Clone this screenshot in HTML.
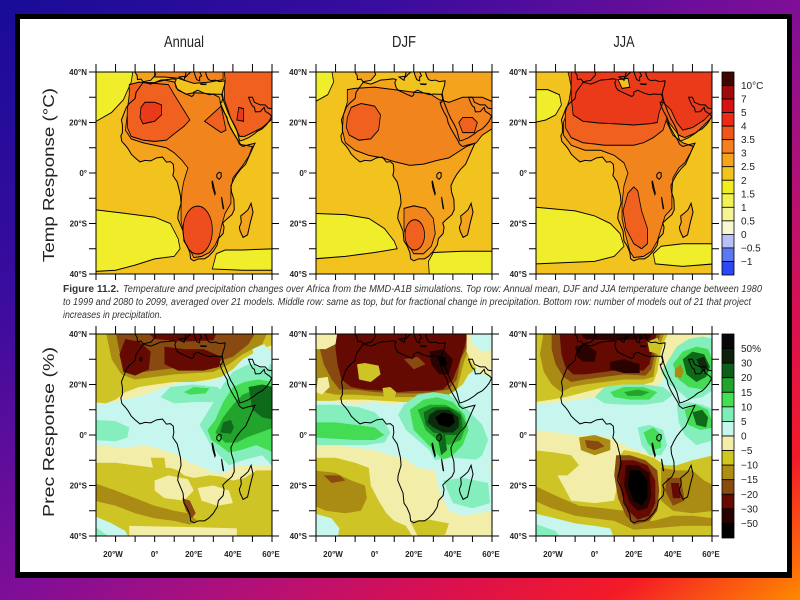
<!DOCTYPE html>
<html><head><meta charset="utf-8">
<style>
html,body{margin:0;padding:0;}
body{width:800px;height:600px;overflow:hidden;background:linear-gradient(to bottom right,#180c98 0%,#3a0c9e 25%,#7e0e98 50%,#b0107a 64%,#d81052 76%,#f41a26 88%,#ff8a00 100%);}
svg{display:block}
text{font-family:"Liberation Sans",Arial,sans-serif}
</style></head><body>
<svg width="800" height="600" viewBox="0 0 800 600">
<defs>
<path id="land" vector-effect="non-scaling-stroke" d="M-6,35.8L-9.5,32 -10,29.5 -13,27.5 -14.5,26 -16.5,22 -17,21 -16.5,19 -16.5,16 -17.3,14.7 -16.8,12.5 -15,11 -13.5,9.5 -12,7.5 -10,6 -7.5,4.4 -5,5 -2,4.8 1,6 4,6.3 6,4.3 8,4.5 9.5,3.5 9.8,1 9.3,-1 11.5,-3.5 12.3,-6 13.2,-9 13.5,-12 12,-16 11.8,-18 14.5,-23 15,-27 16.5,-28.7 18,-31.5 18.4,-34 20,-34.8 22.5,-34 25.5,-34 27.5,-33 30,-31 32,-28.5 32.6,-26 35,-24 35.5,-21.5 34.8,-19.8 36.5,-18.5 39.5,-16.5 40.7,-14.5 40.5,-10.5 39.3,-7.5 39,-5 40.5,-2.5 42,-0.5 44,1.5 46.5,3.5 48.5,7 50.5,10.5 51.3,11.8 48,11.2 45,10.5 43.3,11.5 42.5,13 40.5,15.5 39,17.5 37.5,20 37,22 35.5,24 34,26.5 33.5,28 34.3,28 34.8,29.5 34.2,31.2 32.3,31.2 30,31.3 28,31 25,31.7 22,32.8 20,32 20,31 19,30.3 16,31.3 12,32.8 11,33.8 10.3,35.8 11,37 9.5,37.3 6,37 3,36.8 0,35.8 -2,35.2 -5,35.8Z M26,41L26,40 26.5,38.5 27.5,37 29,36.6 31,36.8 33,36.2 36,36.5 35.8,35 35,33 34.5,31.5 35,29.5 35.5,28 36.5,26 37.5,24 39,21.5 40.5,19.5 42,17 43,14 43.5,12.7 45,13 48,14 51,15.5 52.5,16.5 55,17.5 57,19 58.5,20.5 59.8,22.5 58.5,23.5 56.5,24.5 56,26 54,24.3 51.5,24.2 51,26 50,26.5 49,28 48,30 50,30 51,28 54,27 56.5,27 58,25.7 61,25.3 61,41Z M-11,41L-9,38.7 -8.8,37 -7,37.2 -6,36.2 -5,36.3 -2,36.7 0,38.5 0.5,39 0,40 1,41Z M15,41L16,40 15.7,38 16.5,38.5 17,39 18.5,40 18.5,41Z M12.5,38L15.5,38.3 15,36.7Z M20,41L20.5,39 21.5,37 23,36.5 23,38 24,38.5 23,40 24,41Z M23.5,35.3L26.3,35.2 26,35 23.7,35.1Z M49.3,-12L50.3,-15.5 49.8,-17 48.8,-20 47.5,-24.5 45.2,-25.5 43.7,-23 43.3,-21.5 44.3,-19.5 44,-17 46,-15.8 47.8,-14.5Z"/>
<path id="lakes" vector-effect="non-scaling-stroke" d="M31.8,-0.5L33,0.3 34,0 34,-1.5 33,-2.5 31.8,-1.8Z M29.3,-3.5L29.8,-6 30.8,-8.5 31,-8 30.2,-5.5 29.6,-3.3Z M34.2,-9.5L34.8,-12 35.3,-14.3 35,-14 34.5,-11.5Z"/>
<g id="tk" fill="none" stroke="#000" stroke-width="1">
<path d="M0,0v-8m19.556,8v-8m19.556,8v-8m19.556,8v-8m19.556,8v-8m19.556,8v-8m19.556,8v-8m19.556,8v-8m19.556,8v-8m19.556,8v-8"/>
<path d="M0,202v6m19.556,-6v6m19.556,-6v6m19.556,-6v6m19.556,-6v6m19.556,-6v6m19.556,-6v6m19.556,-6v6m19.556,-6v6m19.556,-6v6"/>
<path d="M0,0h-7m7,25.25h-7m7,25.25h-7m7,25.25h-7m7,25.25h-7m7,25.25h-7m7,25.25h-7m7,25.25h-7m7,25.25h-7"/>
<path d="M176,0h7m-7,25.25h7m-7,25.25h7m-7,25.25h7m-7,25.25h7m-7,25.25h7m-7,25.25h7m-7,25.25h7m-7,25.25h7"/>
<rect x="0" y="0" width="176" height="202"/>
</g>
</defs>

<rect x="15" y="14" width="777" height="564" fill="#000"/>
<rect x="20" y="19" width="767" height="553" fill="#fff"/>

<!-- titles -->
<text x="184" y="47" font-size="16" text-anchor="middle" textLength="40" lengthAdjust="spacingAndGlyphs" fill="#222">Annual</text>
<text x="404" y="47" font-size="16" text-anchor="middle" textLength="24" lengthAdjust="spacingAndGlyphs" fill="#222">DJF</text>
<text x="624" y="47" font-size="16" text-anchor="middle" textLength="21" lengthAdjust="spacingAndGlyphs" fill="#222">JJA</text>

<!-- vertical labels -->
<text transform="translate(54,175) rotate(-90)" font-size="16" text-anchor="middle" textLength="174" lengthAdjust="spacingAndGlyphs" fill="#222">Temp  Response  (°C)</text>
<text transform="translate(54,432) rotate(-90)" font-size="16" text-anchor="middle" textLength="170" lengthAdjust="spacingAndGlyphs" fill="#222">Prec  Response  (%)</text>

<!-- ===== Panel 1: Annual T ===== -->
<svg x="96" y="72" width="176" height="202" viewBox="0 0 90 80" preserveAspectRatio="none">
<g transform="translate(30,40) scale(1,-1)" stroke="#000" stroke-width="0.4">
<rect x="-31" y="-41" width="92" height="82" fill="#f2c21e" stroke="none"/>
<polygon fill="#f0ee2a" points="-31,41 -11,41 -12,36 -16,29 -22,24 -31,20"/>
<polygon fill="#f0ee2a" points="-31,-14.5 -15,-16 0,-17.5 8,-20 12,-26 13,-30 10,-33 0,-34 -10,-36.5 -20,-38.5 -31,-39"/>
<polygon fill="#f0ee2a" points="29.5,-38 31.5,-32 36,-30.5 45,-30.5 61,-30 61,-38.5 45,-38.5"/>
<use href="#land" fill="#f4a41c" stroke="none"/>
<polygon fill="#f2841e" points="-9,32 -12,28 -14,23 -15,17 -12,13.5 -6,12 0,11 6,10 10,8 14,5 17,2 15,-3 14,-7 13.5,-13 13.5,-19 15,-24 17,-28 18.5,-31 20,-33.5 24,-33 28,-31.5 31,-28.5 33,-25 34.5,-20 36,-16 39,-12 39,-6 40,-2 42,0 45,3 48,6.5 50,10.5 44,11.3 41,15 38.5,18.5 36.5,22.5 34,27 33,30 30,31.2 25,31.6 20,31.8 16,31.2 11.5,33.3 10.3,36 5,36.8 0,35.8 -5,35.8"/>
<polygon fill="#f2841e" points="0,41 35,41 35,37 28,36 20,35.5 12,37.5 5,38 0,38"/>
<polygon fill="#f0601e" points="-13,35 -8,36 0,35.5 7,35 10,31 14,26 18,21 15,18.5 10,15.5 6,13 0,12.5 -6,13 -12,14.5 -14,18 -14,25 -13,31"/>
<polygon fill="#f0601e" points="25.5,20.5 34,26.5 36.5,17 34,16"/>
<polygon fill="#f0601e" points="35.5,41 61,41 61,22 55,18 50,16 46,14.5 43.5,14.5 41.5,17.5 39,21.5 37.5,25 35.7,29 35.6,33 36,37"/>
<ellipse cx="22" cy="-22.6" rx="7.5" ry="9.5" fill="#ee4e1e"/>
<polygon fill="#ea3a1a" points="-7,26 -5,28 0,28 3.5,27 3.5,23 0,20.5 -6,19.5 -7.5,22"/>
<polygon fill="#ea3a1a" points="42,21 43,26 45.5,25.5 45.5,20.5"/>
<use href="#land" fill="none" stroke="#000" stroke-width="1"/>
<use href="#lakes" fill="none" stroke="#000" stroke-width="1"/>
</g></svg>

<!-- ===== Panel 2: DJF T ===== -->
<svg x="316" y="72" width="176" height="202" viewBox="0 0 90 80" preserveAspectRatio="none">
<g transform="translate(30,40) scale(1,-1)" stroke="#000" stroke-width="0.4">
<rect x="-31" y="-41" width="92" height="82" fill="#f2c21e" stroke="none"/>
<polygon fill="#f0ee2a" points="-31,41 -22,41 -21,36 -24,31 -31,28"/>
<polygon fill="#f0ee2a" points="-31,-16 -15,-16.5 -3,-18 5,-22 10,-27 11.5,-30 0,-31.5 -15,-33 -31,-34"/>
<polygon fill="#f0ee2a" points="28,-41 27.5,-35 30,-31.5 45,-31 61,-31 61,-41"/>
<use href="#land" fill="#f4a41c" stroke="none"/>
<polygon fill="#f2841e" points="-14,33 -10,33.5 0,34 10,33 20,32 28,31.5 33,29 38,28 45,30 55,30 61,28 61,18 55,15 52,12 47,10.5 42,8 38,6 32,5 25,3.5 18,3 10,4.5 4,6 -3,7 -10,9 -15,12 -16.5,17 -16,23 -14,28"/>
<polygon fill="#f2841e" points="15,-14 20,-13 26,-14 30,-18 31,-24 29,-29 25,-32 20,-32 17,-28 15,-22"/>
<polygon fill="#f0601e" points="-14,22 -12,26 -7,27.5 0,26.5 3,23 2,17 -2,13.5 -8,13 -13,15 -14.5,18"/>
<polygon fill="#f0601e" points="43,20 45,22 50,22 52.5,20 51,16 45,16"/>
<ellipse cx="20.5" cy="-24.5" rx="5" ry="6" fill="#f0601e"/>
<use href="#land" fill="none" stroke="#000" stroke-width="1"/>
<use href="#lakes" fill="none" stroke="#000" stroke-width="1"/>
</g></svg>

<!-- ===== Panel 3: JJA T ===== -->
<svg x="536" y="72" width="176" height="202" viewBox="0 0 90 80" preserveAspectRatio="none">
<g transform="translate(30,40) scale(1,-1)" stroke="#000" stroke-width="0.4">
<rect x="-31" y="-41" width="92" height="82" fill="#f2c21e" stroke="none"/>
<polygon fill="#f0ee2a" points="-31,33 -24,33 -18,31 -17,27 -20,23 -25,21 -31,20"/>
<polygon fill="#f0ee2a" points="-31,-13.5 -10,-15 0,-17 8,-20 13,-24 15,-29 10,-33 0,-35 -15,-35.5 -31,-36"/>
<polygon fill="#f0ee2a" points="31,-36 30,-32 34,-29 45,-28 61,-28 61,-36 45,-37"/>
<use href="#land" fill="#f4a41c" stroke="none"/>
<polygon fill="#f2841e" points="-16,20 -16,15 -12,11 -5,9 3,9 10,7 15,4 17,0 15,-5 14,-12 14,-18 16,-25 18,-31 20,-33.5 25,-33 29,-31 32,-27 34,-22 36,-17 39.5,-14 39.5,-8 40,-2 43,2 46,4 49,8 50.5,10.5 45,12 40,15 37,20 34,26 30,31 20,32 10,34 0,36 -8,36"/>
<polygon fill="#f0601e" points="-14,41 61,41 61,23 56,19 52,16 46,14 43,15 41,17 38,20 37,22 35,17 30,14 25,12 20,11 12,11 5,11 0,11.5 -6,12 -12,14 -15,18 -15,24 -13,29 -12,34 -13,38"/>
<polygon fill="#ea3a1a" points="-12,41 61,41 61,25 56,21 50,18 45,17 42,20 39,25 35,28 33,24 32,20 28,19.5 20,19 10,19.5 2,19.8 -6,20.5 -11,23 -12,30 -12,36"/>
<polygon fill="#f2c21e" points="12,37 17,37.5 18,34 14,33.5"/>
<polygon fill="#f0601e" points="17,-8 20,-5.5 22,-7 24,-15 27,-22 27,-28 24,-30 20,-28 16,-22 14.5,-15"/>
<use href="#land" fill="none" stroke="#000" stroke-width="1"/>
<use href="#lakes" fill="none" stroke="#000" stroke-width="1"/>
</g></svg>

<!-- ===== Panel 4: Annual P ===== -->
<svg x="96" y="334" width="176" height="202" viewBox="0 0 90 80" preserveAspectRatio="none">
<g transform="translate(30,40) scale(1,-1)" stroke="none">
<rect x="-31" y="-41" width="92" height="82" fill="#f2eeaa"/>
<polygon fill="#c6f6ee" points="-31,12 -15,14 -5,16 5,19 15,21 25,21 32,22 36,26 42,30 50,33 61,34 61,-12 50,-12 42,-12 36,-15 30,-15 25,-13 18,-11 12,-8 5,-6 -5,-4 -15,-5 -31,-4"/>
<polygon fill="#cec426" points="-31,41 61,41 61,36 52,33 45,30 40,26 34,23 28,22 20,21 10,21 0,20 -8,19 -15,17 -20,14 -25,12.5 -31,13"/>
<polygon fill="#aa8c14" points="-25,41 58,41 55,36 45,32 38,28 30,25 20,24.5 10,24 0,23 -10,22 -17,24 -22,30"/>
<polygon fill="#884a10" points="-20,41 52,41 48,36 40,31 32,29 25,28 15,27 5,26 -5,25 -14,27 -18,33"/>
<polygon fill="#640a02" points="-15,38 -8,37 -2,33 -3,26 -10,23.5 -16,25 -18,32"/>
<polygon fill="#640a02" points="5,35 15,34 25,34 34,31 33,27 25,25.5 12,25.5 5,28"/>
<polygon fill="#640a02" points="-4,41 32,41 30,37.5 15,37 0,38"/>
<circle cx="-7" cy="30" r="1" fill="#2a0200"/>
<polygon fill="#84eebc" points="-31,6 -20,5.5 -13,3 -14,-1 -20,-2.5 -31,-2"/>
<polygon fill="#84eebc" points="3,15 8,19 20,20 32,19 37,16 30,13 20,13 10,12.5"/>
<polygon fill="#44dc54" points="15,17 20,19 28,18.5 26,16.5 18,16"/>
<polygon fill="#84eebc" points="23,4 27,9 31,14 35,20 40,25 48,28 61,28 61,-13 55,-8 45,-10 38,-12 33,-8 28,-3"/>
<polygon fill="#44dc54" points="27,2 31,6 35,13 40,19 46,21 53,22 61,21 61,-7 52,-4 44,-6 38,-7 33,-4 29,-2"/>
<polygon fill="#22a42c" points="31,1 35,7 40,12 45,16 52,18 61,18 61,3 54,1 47,-1 42,-3 36,-3"/>
<polygon fill="#0e6a1a" points="33.5,1 35,5 39,6 40.5,3 39,0.5"/>
<polygon fill="#0e6a1a" points="48,19 55,20 61,19 61,6 55,7 50,10"/>
<polygon fill="#c6f6ee" points="50,34 56,36 60,32 58,26 52,27"/>
<polygon fill="#cec426" points="-31,-11 -20,-11 -10,-12 0,-13 8,-13 12,-14 15,-16 20,-17 28,-16 34,-16.5 40,-18 46,-17 52,-14 61,-14 61,-41 -31,-41"/>
<polygon fill="#cec426" points="-2,-9 5,-9 6,-15 0,-16"/>
<polygon fill="#f2eeaa" points="0,-18 7,-16 17,-17.5 20,-22 15,-26 5,-25 0,-22"/>
<polygon fill="#f2eeaa" points="22,-21 30,-20 38,-22 40,-27 32,-28 24,-26"/>
<polygon fill="#aa8c14" points="-31,-19 -20,-22 -10,-25 0,-28 10,-30 17,-31 22,-34 18,-35.5 10,-34 0,-33 -10,-31 -20,-28 -31,-26"/>
<polygon fill="#884a10" points="14,-25 18,-26 21,-31 19,-33 16,-30"/>
<polygon fill="#f2eeaa" points="-13,-36 20,-36.5 42,-37 42,-41 -13,-41"/>
<polygon fill="#c6f6ee" points="-31,-32 -22,-35 -15,-38 -13,-41 -31,-41"/>
<polygon fill="#84eebc" points="-31,-36 -22,-41 -31,-41"/>
<use href="#land" fill="none" stroke="#000" stroke-width="1"/>
<use href="#lakes" fill="none" stroke="#000" stroke-width="1"/>
</g></svg>

<!-- ===== Panel 5: DJF P ===== -->
<svg x="316" y="334" width="176" height="202" viewBox="0 0 90 80" preserveAspectRatio="none">
<g transform="translate(30,40) scale(1,-1)" stroke="none">
<rect x="-31" y="-41" width="92" height="82" fill="#f2eeaa"/>
<polygon fill="#c6f6ee" points="-31,14 -20,13 -10,12 0,13 10,12 20,14 30,17 40,22 50,26 61,28 61,-12 50,-14 40,-13 30,-14 22,-13 15,-9 8,-8 0,-6 -10,-5 -20,-4 -31,-3"/>
<polygon fill="#cec426" points="-31,41 61,41 61,30 55,28 48,24 45,20 40,17 35,15 25,13.5 15,13 5,13.5 -5,14 -15,14 -22,13.5 -31,13.5"/>
<polygon fill="#aa8c14" points="-31,41 56,41 50,36 46,30 44,24 42,18 38,16 30,15 20,15 10,15 0,15.5 -10,16 -20,16 -26,17 -31,17"/>
<polygon fill="#884a10" points="-28,41 52,41 48,36 44,30 42,22 38,18 30,17 20,16.5 10,16.5 0,17 -10,18 -18,18 -22,22 -26,28 -28,34"/>
<polygon fill="#640a02" points="-20,41 48,41 46,35 43,28 40,22 35,18 28,17.5 20,17.5 12,17 5,17.5 -5,18 -12,19 -17,22 -19,28 -20,34"/>
<polygon fill="#2a0200" points="28,33 35,34 40,30 38,24 33,24 29,28"/>
<polygon fill="#000" points="32,31 36,31 37,28 34,27"/>
<polygon fill="#cec426" points="-9,28 -5,28.5 2,27.5 3,24 -2,21 -8,22"/>
<polygon fill="#f2eeaa" points="-29,22.5 -24,23 -23,19 -27,16 -30,17"/>
<polygon fill="#cec426" points="4,18.6 8,19 11,17 10,14 5,14"/>
<polygon fill="#884a10" points="15,30 22,31 26,28 20,26"/>
<polygon fill="#f2eeaa" points="-31,41 -19,41 -20,36 -25,34 -31,34"/>
<polygon fill="#f2eeaa" points="47,41 61,41 61,23 55,24 50,28 47,33"/>
<polygon fill="#c6f6ee" points="49,41 61,41 61,34 55,33 50,36"/>
<polygon fill="#84eebc" points="-31,12 -20,12 -8,11 0,9 5,5 8,1 5,-3 -5,-4 -15,-4 -31,-4"/>
<polygon fill="#44dc54" points="-31,5 -20,5 -10,4 0,3 5,0 0,-2 -10,-2 -20,-1.5 -31,-1"/>
<polygon fill="#84eebc" points="12,8 15,12 22,16 30,17 38,16 45,12 50,8 55,4 58,-2 55,-8 48,-12 42,-15 36,-16 32,-12 28,-6 22,-2 16,2"/>
<polygon fill="#44dc54" points="18,10 25,14 32,15 40,13 46,8 48,2 45,-4 40,-8 35,-10 30,-6 25,-2 20,2"/>
<polygon fill="#22a42c" points="22,10 28,12 36,12 44,9 47,4 44,-2 38,-4 32,-2 26,2"/>
<polygon fill="#0e6a1a" points="25,9 30,11 38,11 44,8 45,3 42,0 36,0 30,1 26,4"/>
<polygon fill="#0c2a0c" points="28,8 32,10 38,10 43,7 43,3 40,1 35,1 30,3 27,5"/>
<polygon fill="#000" points="31,7 35,9 40,8 41,5 38,3 33,4"/>
<polygon fill="#0e6a1a" points="32,0 36,0 37,-6 34,-8"/>
<polygon fill="#cec426" points="-31,-9 -20,-9 -10,-11 -3,-13 -2,-20 2,-26 6,-31 10,-34 16,-36 20,-41 -31,-41"/>
<polygon fill="#aa8c14" points="-31,-14 -20,-15 -12,-18 -5,-20 -4,-25 -7,-30 -15,-31 -25,-30 -31,-28"/>
<polygon fill="#884a10" points="-26,-16 -18,-16 -15,-18 -22,-19"/>
<polygon fill="#cec426" points="18,-34 28,-33.5 38,-35 36,-39.5 22,-40"/>
<polygon fill="#c6f6ee" points="-31,-31 -22,-33 -18,-37 -19,-41 -31,-41"/>
<polygon fill="#c6f6ee" points="30,-10 40,-9 55,-10 61,-15 61,-30 45,-32 38,-30 33,-22"/>
<polygon fill="#84eebc" points="35,-18 45,-17 58,-19 59,-27 50,-29 40,-27"/>
<use href="#land" fill="none" stroke="#000" stroke-width="1"/>
<use href="#lakes" fill="none" stroke="#000" stroke-width="1"/>
</g></svg>

<!-- ===== Panel 6: JJA P ===== -->
<svg x="536" y="334" width="176" height="202" viewBox="0 0 90 80" preserveAspectRatio="none">
<g transform="translate(30,40) scale(1,-1)" stroke="none">
<rect x="-31" y="-41" width="92" height="82" fill="#f2eeaa"/>
<polygon fill="#c6f6ee" points="-31,12 -18,13 -8,14 0,15 10,16 20,17 30,18 35,22 40,28 48,34 55,38 61,41 61,-8 50,-10 42,-12 36,-12 30,-8 22,-6 15,-4 8,-1 0,0 -10,0 -20,1 -31,2"/>
<polygon fill="#cec426" points="-31,41 38,41 35,36 33,30 32,25 30,21 25,20 15,20 5,19 -5,17 -15,15 -22,14 -31,13"/>
<polygon fill="#aa8c14" points="-26,41 36,41 33,35 31,28 30,23 25,22 15,22 5,21 -5,20 -12,19 -17,17 -22,20 -26,25 -28,32"/>
<polygon fill="#884a10" points="-22,41 34,41 31,33 29,26 26,23.5 15,24 5,23 -5,22 -12,21 -16,23 -20,28 -22,34"/>
<polygon fill="#640a02" points="-18,41 32,41 30,35 28,28 25,25.5 15,26 5,25 -5,24 -11,24 -15,27 -17,32"/>
<polygon fill="#2a0200" points="-10,35 -5,36 1,33 0,29 -6,29 -9,31"/>
<polygon fill="#2a0200" points="8,29 15,30 23,28 23,24.5 15,24.5 8,26"/>
<polygon fill="#2a0200" points="-8,41 30,41 28,38 10,37.5 -5,38"/>
<polygon fill="#cec426" points="27,37 32,38.5 34.5,35 33,32 28,33"/>
<polygon fill="#84eebc" points="0,15 5,19 15,20 25,20 35,19 40,16 35,13 25,12 15,12 5,12.5"/>
<polygon fill="#44dc54" points="8,17 15,19 25,19 32,17 28,14 18,14 10,15"/>
<polygon fill="#22a42c" points="15,17 22,18 28,17 24,15.5 17,15.5"/>
<polygon fill="#84eebc" points="34,25 38,30 42,35 48,38 55,39 61,38 61,18 55,15 48,14 42,18 38,20"/>
<polygon fill="#44dc54" points="40,28 45,33 52,35 58,34 61,28 61,22 55,18 48,19 43,22"/>
<polygon fill="#0e6a1a" points="45,30 50,33 56,32 59,27 57,23 52,21 47,24"/>
<polygon fill="#0c2a0c" points="52,30 56,31 58,27 55,25"/>
<polygon fill="#aa8c14" points="41,26 44,28 45.5,25 44,22.5 41,23"/>
<polygon fill="#84eebc" points="42,12 48,13 55,12 61,10 61,-2 52,-4 46,0 43,5"/>
<polygon fill="#44dc54" points="46,10 52,12 58,10 61,3 54,2 48,4"/>
<polygon fill="#0e6a1a" points="50,9 55,10 58,7 57,3 52,4"/>
<polygon fill="#84eebc" points="22,3 28,4 35,2 37,-4 34,-8 28,-8 24,-4"/>
<polygon fill="#44dc54" points="25,1 30,3 34,0 34,-5 30,-6 27,-3"/>
<polygon fill="#aa8c14" points="-8,-1 0,0 8,-2 8,-6 0,-8 -7,-6"/>
<polygon fill="#884a10" points="-5,-2 2,-2.5 5,-4.5 0,-6 -4,-5"/>
<polygon fill="#cec426" points="-31,-6 -20,-7 -12,-8 -8,-12 -14,-16 -19,-16 -12,-26 0,-27 10,-26 12,-18 11,-10 15,-6 22,-7 30,-9 36,-12 42,-12 50,-10 61,-8 61,-41 -31,-41"/>
<polygon fill="#aa8c14" points="-31,-20 -20,-24 -8,-28 5,-29 15,-30 20,-34 30,-34 40,-32 50,-32 61,-33 61,-36 45,-36 30,-37 20,-37.5 10,-34 0,-33 -10,-32 -22,-29 -31,-26"/>
<polygon fill="#c6f6ee" points="-31,-31 -20,-33 -10,-35 0,-36 8,-37 10,-41 -31,-41"/>
<polygon fill="#84eebc" points="-31,-35 -20,-38 -17,-41 -31,-41"/>
<polygon fill="#884a10" points="11,-8 18,-8 26,-10 32,-14 33,-22 32,-30 28,-34 20,-35.5 16,-32 12,-25 10,-16"/>
<polygon fill="#640a02" points="13,-10 20,-10 27,-12 31,-18 31,-27 28,-32 22,-33.5 17,-30 14,-24 12,-16"/>
<polygon fill="#2a0200" points="16,-12 22,-12 28,-15 29,-24 27,-29 22,-30 18,-27 15,-20"/>
<polygon fill="#000" points="18,-14 23,-14 27,-18 27,-25 24,-28 20,-26 17,-20"/>
<polygon fill="#aa8c14" points="34,-13 42,-14 50,-14 56,-18 61,-20 61,-30 50,-31 40,-30 34,-26"/>
<polygon fill="#884a10" points="37,-17 44,-17 46,-26 40,-28 36,-22"/>
<polygon fill="#640a02" points="39,-19 43,-19 44,-25 40,-25"/>
<use href="#land" fill="none" stroke="#000" stroke-width="1"/>
<use href="#lakes" fill="none" stroke="#000" stroke-width="1"/>
</g></svg>

<!-- frames & ticks -->
<use href="#tk" x="96" y="72"/>
<use href="#tk" x="316" y="72"/>
<use href="#tk" x="536" y="72"/>
<use href="#tk" x="96" y="334"/>
<use href="#tk" x="316" y="334"/>
<use href="#tk" x="536" y="334"/>

<!-- lat labels -->
<g font-size="8" font-weight="bold" fill="#222" text-anchor="end">
<text x="87" y="75">40°N</text><text x="87" y="125.5">20°N</text><text x="87" y="176">0°</text><text x="87" y="226.5">20°S</text><text x="87" y="277">40°S</text>
<text x="307" y="75">40°N</text><text x="307" y="125.5">20°N</text><text x="307" y="176">0°</text><text x="307" y="226.5">20°S</text><text x="307" y="277">40°S</text>
<text x="527" y="75">40°N</text><text x="527" y="125.5">20°N</text><text x="527" y="176">0°</text><text x="527" y="226.5">20°S</text><text x="527" y="277">40°S</text>
<text x="87" y="337">40°N</text><text x="87" y="387.5">20°N</text><text x="87" y="438">0°</text><text x="87" y="488.5">20°S</text><text x="87" y="539">40°S</text>
<text x="307" y="337">40°N</text><text x="307" y="387.5">20°N</text><text x="307" y="438">0°</text><text x="307" y="488.5">20°S</text><text x="307" y="539">40°S</text>
<text x="527" y="337">40°N</text><text x="527" y="387.5">20°N</text><text x="527" y="438">0°</text><text x="527" y="488.5">20°S</text><text x="527" y="539">40°S</text>
</g>
<!-- lon labels -->
<g font-size="8" font-weight="bold" fill="#222" text-anchor="middle">
<text x="113" y="557">20°W</text><text x="154.7" y="557">0°</text><text x="193.8" y="557">20°E</text><text x="232.9" y="557">40°E</text><text x="271" y="557">60°E</text>
<text x="333" y="557">20°W</text><text x="374.7" y="557">0°</text><text x="413.8" y="557">20°E</text><text x="452.9" y="557">40°E</text><text x="491" y="557">60°E</text>
<text x="553" y="557">20°W</text><text x="594.7" y="557">0°</text><text x="633.8" y="557">20°E</text><text x="672.9" y="557">40°E</text><text x="711" y="557">60°E</text>
</g>

<!-- caption -->
<text x="63" y="292" font-size="10.5" font-weight="bold" fill="#333" textLength="56" lengthAdjust="spacingAndGlyphs">Figure 11.2.</text>
<text x="123" y="292" font-size="10" font-style="italic" fill="#333" textLength="639" lengthAdjust="spacingAndGlyphs">Temperature and precipitation changes over Africa from the MMD-A1B simulations. Top row: Annual mean, DJF and JJA temperature change between 1980</text>
<text x="63" y="305" font-size="10" font-style="italic" fill="#333" textLength="688" lengthAdjust="spacingAndGlyphs">to 1999 and 2080 to 2099, averaged over 21 models. Middle row: same as top, but for fractional change in precipitation. Bottom row: number of models out of 21 that project</text>
<text x="63" y="318" font-size="10" font-style="italic" fill="#333" textLength="99" lengthAdjust="spacingAndGlyphs">increases in precipitation.</text>

<!-- colorbar top -->
<g stroke="#000" stroke-width="0.8">
<rect x="722" y="72" width="12" height="13.53" fill="#3c0800"/>
<rect x="722" y="85.53" width="12" height="13.53" fill="#a00a0a"/>
<rect x="722" y="99.07" width="12" height="13.53" fill="#d81212"/>
<rect x="722" y="112.6" width="12" height="13.53" fill="#ee2a16"/>
<rect x="722" y="126.13" width="12" height="13.53" fill="#f0561a"/>
<rect x="722" y="139.67" width="12" height="13.53" fill="#f4801e"/>
<rect x="722" y="153.2" width="12" height="13.53" fill="#f5a41c"/>
<rect x="722" y="166.73" width="12" height="13.53" fill="#f2c41e"/>
<rect x="722" y="180.27" width="12" height="13.53" fill="#f0ee22"/>
<rect x="722" y="193.8" width="12" height="13.53" fill="#f2f255"/>
<rect x="722" y="207.33" width="12" height="13.53" fill="#f4f494"/>
<rect x="722" y="220.87" width="12" height="13.53" fill="#f8f8d4"/>
<rect x="722" y="234.4" width="12" height="13.53" fill="#b8c0fa"/>
<rect x="722" y="247.93" width="12" height="13.53" fill="#5a78f2"/>
<rect x="722" y="261.47" width="12" height="13.53" fill="#2a48f8"/>
</g>
<g font-size="10" fill="#222">
<text x="741" y="89">10°C</text><text x="741" y="102.6">7</text><text x="741" y="116.1">5</text><text x="741" y="129.6">4</text><text x="741" y="143.2">3.5</text><text x="741" y="156.7">3</text><text x="741" y="170.2">2.5</text><text x="741" y="183.8">2</text><text x="741" y="197.3">1.5</text><text x="741" y="210.8">1</text><text x="741" y="224.4">0.5</text><text x="741" y="237.9">0</text><text x="741" y="251.4">−0.5</text><text x="741" y="265">−1</text>
</g>

<!-- colorbar bottom -->
<g stroke="#000" stroke-width="0.8">
<rect x="722" y="334" width="12" height="14.57" fill="#080808"/>
<rect x="722" y="348.57" width="12" height="14.57" fill="#0c200c"/>
<rect x="722" y="363.14" width="12" height="14.57" fill="#0c5e18"/>
<rect x="722" y="377.71" width="12" height="14.57" fill="#20a42a"/>
<rect x="722" y="392.29" width="12" height="14.57" fill="#44e052"/>
<rect x="722" y="406.86" width="12" height="14.57" fill="#7eeeb6"/>
<rect x="722" y="421.43" width="12" height="14.57" fill="#c6f6ee"/>
<rect x="722" y="436" width="12" height="14.57" fill="#f2eeaa"/>
<rect x="722" y="450.57" width="12" height="14.57" fill="#d0c620"/>
<rect x="722" y="465.14" width="12" height="14.57" fill="#ae8e12"/>
<rect x="722" y="479.71" width="12" height="14.57" fill="#8a4c0e"/>
<rect x="722" y="494.29" width="12" height="14.57" fill="#660a02"/>
<rect x="722" y="508.86" width="12" height="14.57" fill="#260200"/>
<rect x="722" y="523.43" width="12" height="14.57" fill="#000"/>
</g>
<g font-size="10" fill="#222">
<text x="741" y="352.1">50%</text><text x="741" y="366.6">30</text><text x="741" y="381.2">20</text><text x="741" y="395.8">15</text><text x="741" y="410.4">10</text><text x="741" y="424.9">5</text><text x="741" y="439.5">0</text><text x="741" y="454.1">−5</text><text x="741" y="468.6">−10</text><text x="741" y="483.2">−15</text><text x="741" y="497.8">−20</text><text x="741" y="512.4">−30</text><text x="741" y="526.9">−50</text>
</g>
</svg>
</body></html>
